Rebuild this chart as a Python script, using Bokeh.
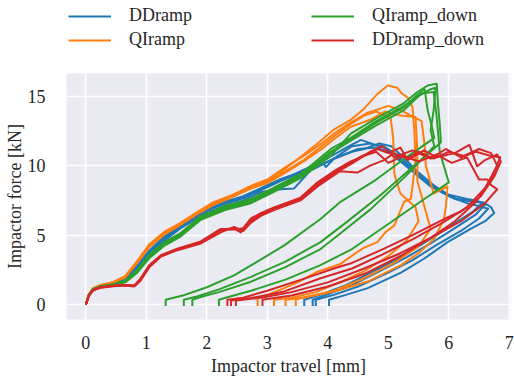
from bokeh.plotting import figure
from bokeh.layouts import column
from bokeh.models import Legend, LegendItem, Range1d, FixedTicker
from bokeh.embed import file_html
from bokeh.resources import INLINE

# ---------------- data ----------------
series_names = ["DDramp", "QIramp", "QIramp_down", "DDramp_down"]
series_colors = ["#1f77b4", "#ff7f0e", "#2ca02c", "#d62728"]
x_ticks = [0, 1, 2, 3, 4, 5, 6, 7]
y_ticks = [0, 5, 10, 15]

# DDramp  (x in mm, force in kN)
ddramp_1 = [(0,0),(0.05,0.7),(0.12,1.1),(0.25,1.3),(0.45,1.5),(0.65,1.8),(0.85,2.7),(1.05,3.8),(1.3,4.8),(1.55,5.6),(1.8,6.3),(2.05,6.9),(2.3,7.3),(2.6,7.7),(2.9,8.3),(3.2,8.9),(3.5,9.5),(3.8,10.1),(4.1,10.8),(4.35,11.4),(4.55,11.85),(4.77,11.5),(4.93,11.37),(5.1,10.8),(5.32,9.95),(5.65,8.77),(5.9,8.1),(6.14,7.58),(6.4,7.4),(6.58,7.35),(6.7,7.0),(6.75,6.6),(6.6,6.0),(6.36,5.45),(5.98,4.5),(5.59,3.3),(5.21,2.3),(4.66,1.19),(4.3,0.7),(4.02,0.35),(4.02,-0.1)]
ddramp_2 = [(0,0),(0.05,0.65),(0.12,1.05),(0.25,1.28),(0.45,1.48),(0.65,1.75),(0.85,2.55),(1.05,3.6),(1.3,4.6),(1.55,5.45),(1.8,6.1),(2.05,6.7),(2.3,7.1),(2.6,7.5),(2.9,8.1),(3.22,8.3),(3.44,8.35),(3.7,9.6),(4.1,10.5),(4.5,11.2),(4.8,11.3),(5.0,11.0),(5.2,10.3),(5.45,9.4),(5.7,8.5),(6.0,7.8),(6.3,7.3),(6.5,7.1),(6.65,6.9),(6.5,6.2),(6.2,5.3),(5.8,4.3),(5.4,3.2),(5.0,2.3),(4.5,1.3),(4.1,0.7),(3.8,0.35),(3.8,-0.1)]
ddramp_3 = [(0,0),(0.05,0.72),(0.12,1.12),(0.25,1.32),(0.45,1.52),(0.65,1.85),(0.85,2.8),(1.05,3.9),(1.3,4.9),(1.55,5.7),(1.8,6.35),(2.05,6.95),(2.3,7.4),(2.6,7.8),(2.9,8.4),(3.2,9.0),(3.6,9.6),(3.9,10.3),(3.97,9.9),(4.1,10.5),(4.4,11.4),(4.7,11.6),(5.0,11.2),(5.3,10.2),(5.6,9.0),(5.85,8.3),(6.1,7.6),(6.35,7.5),(6.5,7.4),(6.6,7.2),(6.45,6.5),(6.1,5.5),(5.7,4.4),(5.3,3.4),(4.9,2.5),(4.4,1.4),(4.0,0.75),(3.75,0.35),(3.75,-0.1)]
ddramp_4 = [(0,0),(0.05,0.68),(0.12,1.08),(0.25,1.3),(0.45,1.5),(0.65,1.78),(0.85,2.65),(1.05,3.75),(1.3,4.75),(1.55,5.55),(1.8,6.25),(2.05,6.85),(2.3,7.25),(2.6,7.65),(2.9,8.25),(3.2,8.85),(3.5,9.4),(3.8,9.9),(4.1,10.5),(4.4,11.0),(4.6,11.2),(4.85,11.6),(5.05,11.4),(5.25,10.6),(5.5,9.5),(5.8,8.4),(6.0,7.9),(6.3,7.6),(6.45,7.5),(6.55,7.3),(6.4,6.7),(6.05,5.7),(5.65,4.6),(5.21,3.4),(4.8,2.5),(4.3,1.4),(3.9,0.75),(3.61,0.35),(3.61,-0.1)]

# QIramp
qiramp_1 = [(0,0),(0.05,0.75),(0.12,1.18),(0.25,1.42),(0.45,1.62),(0.65,2.05),(0.85,3.15),(1.05,4.3),(1.3,5.2),(1.55,5.8),(1.8,6.5),(2.1,7.3),(2.4,7.8),(2.73,8.5),(3.0,8.9),(3.3,9.8),(3.6,10.8),(3.83,11.6),(4.1,12.6),(4.38,13.3),(4.6,14.1),(4.82,15.16),(4.99,15.76),(5.15,15.6),(5.22,15.2),(5.32,14.9),(5.4,14.2),(5.43,12.5),(5.45,10.4),(5.4,8.5),(5.37,7.6),(5.26,7.4),(5.1,5.7),(4.95,5.2),(4.82,4.5),(4.6,4.1),(4.49,3.8),(4.2,2.9),(3.83,2.37),(3.5,1.6),(3.28,1.19),(3.0,0.7),(2.84,0.45),(2.84,-0.1)]
qiramp_2 = [(0,0),(0.05,0.72),(0.12,1.15),(0.25,1.4),(0.45,1.6),(0.65,2.0),(0.85,3.05),(1.05,4.25),(1.3,5.15),(1.55,5.75),(1.8,6.45),(2.1,7.2),(2.4,7.75),(2.73,8.4),(3.0,8.8),(3.3,9.6),(3.6,10.4),(3.9,11.4),(4.1,12.1),(4.38,13.0),(4.6,13.6),(4.8,13.9),(5.04,13.4),(5.08,12.0),(5.1,9.4),(5.2,8.0),(5.45,7.0),(5.5,6.0),(5.3,4.6),(5.0,3.5),(4.6,2.4),(4.2,1.6),(3.8,0.9),(3.4,0.5),(3.11,0.35),(3.11,-0.1)]
qiramp_3 = [(0,0),(0.05,0.7),(0.12,1.12),(0.25,1.38),(0.45,1.58),(0.65,1.95),(0.85,3.0),(1.05,4.15),(1.3,5.05),(1.55,5.7),(1.8,6.4),(2.1,7.15),(2.4,7.7),(2.73,8.35),(3.0,8.75),(3.3,9.5),(3.6,10.3),(3.9,11.2),(4.1,11.9),(4.38,12.8),(4.7,13.3),(4.95,13.9),(5.2,13.6),(5.45,13.5),(5.48,11.0),(5.48,8.9),(5.6,7.0),(5.7,5.45),(5.5,4.2),(5.1,3.0),(4.6,1.9),(4.1,1.0),(3.6,0.5),(3.3,0.35),(3.3,-0.1)]
qiramp_4 = [(0,0),(0.05,0.74),(0.12,1.16),(0.25,1.41),(0.45,1.61),(0.65,2.02),(0.85,3.1),(1.05,4.35),(1.3,5.25),(1.55,5.85),(1.8,6.55),(2.1,7.35),(2.4,7.85),(2.73,8.55),(3.0,9.0),(3.3,9.9),(3.6,10.7),(3.9,11.6),(4.1,12.3),(4.38,13.1),(4.65,13.8),(5.0,14.3),(5.2,14.0),(5.55,13.2),(5.6,11.5),(5.62,10.0),(5.75,8.0),(5.98,8.5),(5.95,7.0),(5.92,6.16),(5.76,4.74),(5.5,3.7),(5.21,2.84),(4.66,1.66),(4.1,0.95),(3.55,0.47),(3.47,0.35),(3.47,-0.1)]

# QIramp_down
qiramp_down_1 = [(0,0),(0.05,0.7),(0.12,1.1),(0.25,1.3),(0.45,1.45),(0.65,1.65),(0.85,2.4),(1.05,3.5),(1.3,4.4),(1.55,5.0),(1.9,6.3),(2.3,7.0),(2.73,7.5),(3.1,8.3),(3.55,9.3),(4.05,11.0),(4.38,11.9),(4.8,13.1),(5.26,14.2),(5.48,15.1),(5.6,15.5),(5.65,14.0),(5.72,12.8),(5.76,12.0),(5.3,10.6),(4.8,9.0),(4.21,7.4),(3.88,6.16),(3.28,4.26),(2.8,3.0),(2.45,2.1),(2.0,1.25),(1.6,0.65),(1.32,0.35),(1.32,-0.1)]
qiramp_down_2 = [(0,0),(0.05,0.68),(0.12,1.08),(0.25,1.28),(0.45,1.42),(0.65,1.6),(0.85,2.3),(1.05,3.35),(1.3,4.25),(1.55,4.85),(1.9,6.1),(2.3,6.8),(2.73,7.3),(3.1,8.1),(3.55,9.1),(4.05,10.7),(4.38,12.3),(4.8,13.4),(5.26,14.5),(5.48,15.3),(5.65,15.76),(5.8,15.9),(5.82,14.5),(5.85,13.0),(5.87,11.7),(5.85,11.6),(5.3,9.5),(4.88,7.9),(4.3,5.9),(3.88,4.5),(3.3,3.1),(2.73,2.0),(2.2,1.1),(1.85,0.6),(1.62,0.35),(1.62,-0.1)]
qiramp_down_3 = [(0,0),(0.05,0.72),(0.12,1.12),(0.25,1.32),(0.45,1.47),(0.65,1.7),(0.85,2.5),(1.05,3.6),(1.3,4.5),(1.55,5.1),(1.9,6.35),(2.3,7.1),(2.73,7.6),(3.1,8.4),(3.55,9.4),(4.05,11.2),(4.38,12.0),(4.8,13.2),(5.26,14.3),(5.5,15.0),(5.7,15.5),(5.78,15.6),(5.75,14.0),(5.7,12.55),(5.76,11.4),(5.3,9.3),(4.71,6.87),(4.2,5.1),(3.88,4.0),(3.3,2.7),(2.73,1.65),(2.2,0.9),(1.9,0.55),(1.76,0.35),(1.76,-0.1)]
qiramp_down_4 = [(0,0),(0.05,0.69),(0.12,1.09),(0.25,1.29),(0.45,1.44),(0.65,1.62),(0.85,2.35),(1.05,3.4),(1.3,4.3),(1.55,4.9),(1.9,6.2),(2.3,6.9),(2.73,7.4),(3.1,8.2),(3.55,9.2),(4.05,10.9),(4.38,11.8),(4.8,12.9),(5.26,14.0),(5.55,15.2),(5.75,15.3),(5.8,13.5),(5.85,11.0),(5.95,9.5),(6.0,8.8),(5.59,7.58),(5.0,5.8),(4.4,4.0),(3.88,2.84),(3.3,1.8),(2.73,1.0),(2.4,0.6),(2.2,0.35),(2.2,-0.1)]

# DDramp_down
ddramp_down_1 = [(0,0),(0.05,0.65),(0.12,1.05),(0.25,1.25),(0.45,1.35),(0.65,1.4),(0.8,1.35),(0.9,1.8),(1.05,2.8),(1.24,3.5),(1.5,3.95),(1.9,4.5),(2.23,5.4),(2.45,5.5),(2.56,5.2),(2.73,6.1),(2.9,6.5),(3.11,6.9),(3.55,7.6),(3.83,8.7),(4.1,9.5),(4.38,10.2),(4.55,10.66),(4.82,11.2),(5.0,10.9),(5.2,11.3),(5.32,10.4),(5.59,11.1),(5.8,10.6),(6.1,10.9),(6.34,11.5),(6.47,9.95),(6.6,10.4),(6.8,10.8),(6.86,10.3),(6.75,9.2),(6.53,7.8),(6.2,6.7),(5.92,6.16),(5.4,5.0),(4.93,4.03),(4.4,3.0),(4.1,2.6),(3.55,1.78),(3.0,1.0),(2.6,0.5),(2.34,0.35),(2.34,-0.1)]
ddramp_down_2 = [(0,0),(0.05,0.63),(0.12,1.02),(0.25,1.22),(0.45,1.33),(0.65,1.38),(0.8,1.3),(0.9,1.7),(1.05,2.7),(1.24,3.45),(1.5,3.9),(1.9,4.4),(2.23,5.2),(2.45,5.6),(2.6,5.3),(2.73,5.9),(2.9,6.4),(3.11,6.8),(3.55,7.5),(3.83,8.5),(4.2,9.6),(4.49,9.5),(4.7,10.0),(4.93,10.4),(5.1,10.9),(5.3,10.5),(5.5,11.0),(5.75,10.5),(6.0,11.0),(6.25,10.7),(6.5,11.2),(6.7,10.9),(6.8,10.0),(6.6,8.4),(6.3,7.0),(5.9,5.9),(5.4,4.7),(4.9,3.6),(4.4,2.6),(3.88,1.9),(3.28,0.95),(2.73,0.47),(2.4,0.3),(2.4,-0.1)]
ddramp_down_3 = [(0,0),(0.05,0.66),(0.12,1.06),(0.25,1.26),(0.45,1.36),(0.65,1.42),(0.8,1.38),(0.9,1.85),(1.05,2.85),(1.24,3.55),(1.5,4.0),(1.9,4.55),(2.23,5.45),(2.45,5.4),(2.6,5.5),(2.73,6.2),(2.9,6.6),(3.11,7.0),(3.55,7.7),(3.83,8.8),(4.1,9.6),(4.38,10.3),(4.6,10.7),(4.8,11.0),(5.0,10.2),(5.25,10.7),(5.5,10.3),(5.8,10.8),(6.05,10.2),(6.3,10.6),(6.5,9.0),(6.64,9.0),(6.7,8.6),(6.8,8.3),(6.6,7.3),(6.2,6.0),(5.7,4.8),(5.2,3.7),(4.6,2.6),(4.0,1.6),(3.4,0.9),(2.9,0.5),(2.48,0.3),(2.48,-0.1)]
ddramp_down_4 = [(0,0),(0.05,0.64),(0.12,1.04),(0.25,1.24),(0.45,1.34),(0.65,1.41),(0.8,1.36),(0.9,1.75),(1.05,2.75),(1.24,3.5),(1.5,3.98),(1.9,4.48),(2.23,5.35),(2.45,5.45),(2.56,5.25),(2.73,6.0),(2.9,6.45),(3.11,6.85),(3.55,7.55),(3.83,8.6),(4.1,9.4),(4.38,10.1),(4.6,10.7),(4.7,11.0),(4.9,11.4),(5.1,10.6),(5.4,11.1),(5.7,10.5),(5.95,11.2),(6.2,10.6),(6.45,11.0),(6.7,10.7),(6.85,10.6),(6.7,9.0),(6.45,7.4),(6.1,6.0),(5.7,4.8),(5.2,3.5),(4.6,2.2),(4.0,1.3),(3.4,0.65),(2.92,0.35),(2.92,-0.1)]

series_curves = [
    [ddramp_1, ddramp_2, ddramp_3, ddramp_4],
    [qiramp_1, qiramp_2, qiramp_3, qiramp_4],
    [qiramp_down_1, qiramp_down_2, qiramp_down_3, qiramp_down_4],
    [ddramp_down_1, ddramp_down_2, ddramp_down_3, ddramp_down_4],
]

# ---------------- figures ----------------
FONT = "Liberation Serif"
TEXT = "#262626"
LW = 2.0

# legend strip on top
lg = figure(width=514, height=73, output_backend="svg", toolbar_location=None,
            x_range=Range1d(0, 1), y_range=Range1d(0, 1),
            min_border_left=0, min_border_right=0, min_border_top=0,
            min_border_bottom=0)
lg.axis.visible = False
lg.grid.visible = False
lg.outline_line_color = None
lg.background_fill_color = "white"
lg.border_fill_color = "white"

# main plot
p = figure(width=514, height=305, output_backend="svg", toolbar_location=None,
           x_range=Range1d(-0.32, 7.02), y_range=Range1d(-1.07, 16.63),
           min_border_left=66, min_border_right=4, min_border_top=0,
           min_border_bottom=56)
p.background_fill_color = "#EAEAF2"
p.border_fill_color = "white"
p.outline_line_color = None

for g in (p.xgrid, p.ygrid):
    g.grid_line_color = "white"
    g.grid_line_width = 1.6
p.xaxis.ticker = FixedTicker(ticks=x_ticks)
p.yaxis.ticker = FixedTicker(ticks=y_ticks)
for ax in (p.xaxis, p.yaxis):
    ax.axis_line_color = None
    ax.major_tick_line_color = None
    ax.minor_tick_line_color = None
    ax.major_label_text_font = FONT
    ax.major_label_text_font_size = "18px"
    ax.major_label_text_color = TEXT
    ax.axis_label_text_font = FONT
    ax.axis_label_text_font_size = "18px"
    ax.axis_label_text_font_style = "normal"
    ax.axis_label_text_color = TEXT
p.xaxis.axis_label = "Impactor travel [mm]"
p.yaxis.axis_label = "Impactor force [kN]"
p.xaxis.major_label_standoff = 10
p.xaxis.axis_label_standoff = 4
p.yaxis.major_label_standoff = 15
p.yaxis.axis_label_standoff = 0

items = []
for name, color, curves in zip(series_names, series_colors, series_curves):
    xs = [[pt[0] for pt in c] for c in curves]
    ys = [[pt[1] for pt in c] for c in curves]
    p.multi_line(xs, ys, line_color=color, line_width=LW, line_join="round")
    # legend-only renderer, its data lies outside the strip's visible range
    dummy = lg.line(x=[5, 6], y=[5, 6], line_color=color, line_width=LW)
    items.append(LegendItem(label=name, renderers=[dummy]))

legend = Legend(items=items, location=(2, 23), ncols=2,
                border_line_color=None, background_fill_alpha=0,
                padding=0, margin=0, spacing=3,
                glyph_width=43, glyph_height=20, label_height=20,
                label_standoff=18, label_width=179,
                label_text_font=FONT, label_text_font_size="18px",
                label_text_color=TEXT)
lg.add_layout(legend)

layout = column(lg, p, spacing=0)
open("out.html", "w").write(file_html(layout, INLINE))
